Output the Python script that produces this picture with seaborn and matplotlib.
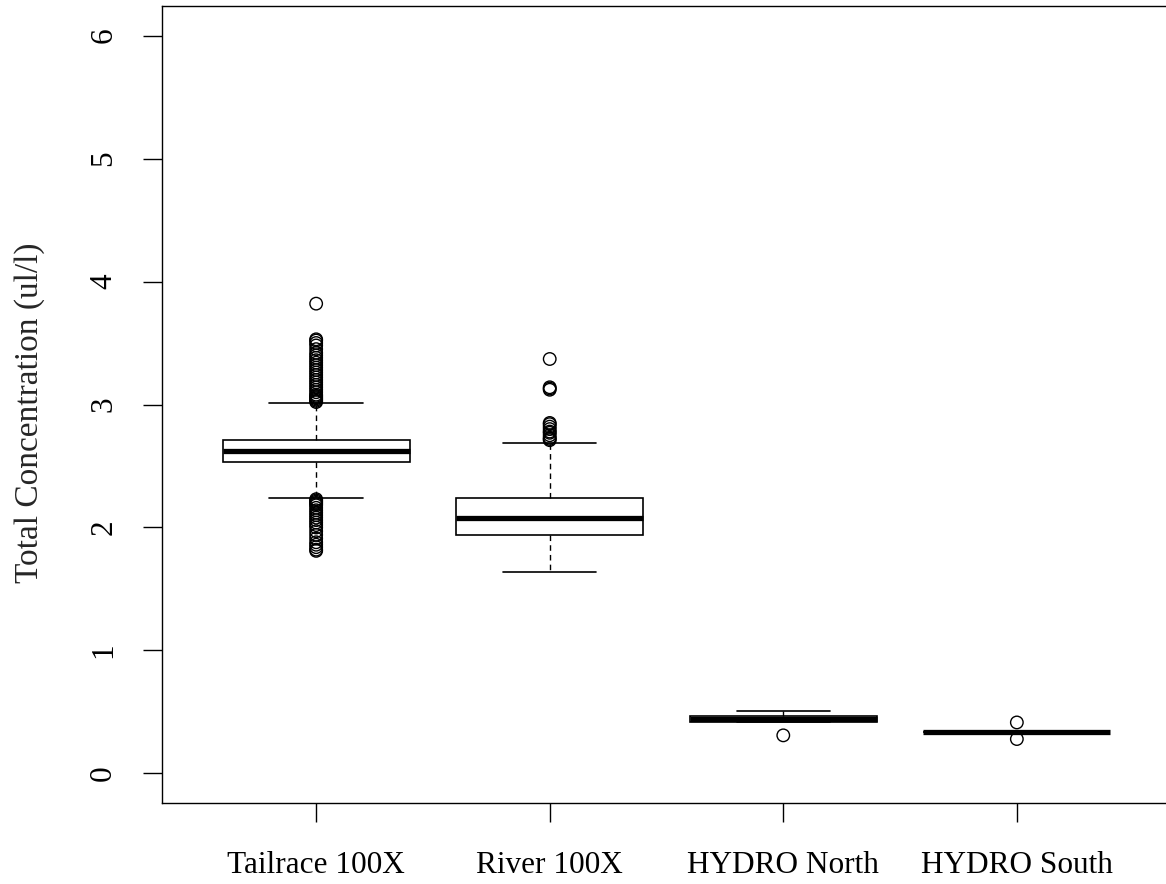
import numpy as np
import pandas as pd
import matplotlib
matplotlib.use("Agg")
import matplotlib.pyplot as plt
import seaborn as sns

sites = ["Tailrace 100X", "River 100X", "HYDRO North", "HYDRO South"]

# box summaries: lower whisker, Q1, median, Q3, upper whisker
tailrace_box = [2.24, 2.53, 2.62, 2.715, 3.01]
river_box = [1.64, 1.935, 2.08, 2.24, 2.69]
north_box = [0.42, 0.42, 0.44, 0.465, 0.51]
south_box = [0.34, 0.34, 0.34, 0.34, 0.34]

# outlying points (open circles)
tailrace_out = [3.02, 3.03, 3.04, 3.05, 3.06, 3.07, 3.08, 3.10, 3.12, 3.14,
                3.16, 3.18, 3.20, 3.22, 3.24, 3.26, 3.28, 3.30, 3.32, 3.34,
                3.36, 3.38, 3.40, 3.42, 3.45, 3.48, 3.50, 3.52, 3.53, 3.82,
                2.23, 2.22, 2.21, 2.20, 2.19, 2.18, 2.16, 2.14, 2.12, 2.10,
                2.08, 2.06, 2.04, 2.02, 2.00, 1.97, 1.94, 1.91, 1.88, 1.86,
                1.84, 1.82, 1.81]
river_out = [2.71, 2.72, 2.73, 2.75, 2.77, 2.78, 2.80, 2.82, 2.84, 2.85,
             3.12, 3.13, 3.14, 3.37]
north_out = [0.31]
south_out = [0.415, 0.28]

box_values = [tailrace_box, river_box, north_box, south_box]
out_values = [tailrace_out, river_out, north_out, south_out]

df_box = pd.DataFrame({
    "site": np.repeat(sites, [len(v) for v in box_values]),
    "conc": np.concatenate(box_values),
})
df_out = pd.DataFrame({
    "site": np.repeat(sites, [len(v) for v in out_values]),
    "conc": np.concatenate(out_values),
})

sns.set_style("ticks")
plt.rcParams["font.family"] = ["Liberation Serif", "DejaVu Serif"]

fig = plt.figure(figsize=(11.66, 8.84), dpi=100)
# plot region runs a little past the right edge of the image
ax = fig.add_axes([162 / 1166, 81 / 884, 1009 / 1166, 797 / 884])

# whiskers go to the given min/max, outliers drawn separately
sns.boxplot(data=df_box, x="site", y="conc", order=sites, whis=(0, 100),
            width=0.8, color="white", linecolor="black", linewidth=1.2,
            showfliers=False, ax=ax,
            medianprops=dict(linewidth=3.8, color="black"),
            whiskerprops=dict(linestyle=(0, (4, 3)), linewidth=1.0),
            capprops=dict(linewidth=1.2))

sns.stripplot(data=df_out, x="site", y="conc", order=sites, jitter=False,
              size=9, color="black", facecolor="none", edgecolor="black",
              linewidth=1.0, ax=ax)
for coll in ax.collections:
    coll.set_facecolor("none")
    coll.set_edgecolor("black")

ax.set_xlim(-0.66, 3.66)
ax.set_ylim(-0.24, 6.24)
ax.set_yticks(range(7))
ax.set_xlabel("")
ax.set_ylabel("Total Concentration (ul/l)", fontsize=24)
ax.yaxis.set_label_coords(-0.116, 0.49)

for s in ax.spines.values():
    s.set_visible(True)
    s.set_color("black")
    s.set_linewidth(1.0)

ax.tick_params(axis="both", direction="out", length=13.5, width=1.0,
               color="black", labelsize=22.5, labelcolor="black")
ax.tick_params(axis="x", pad=21)
ax.tick_params(axis="y", labelrotation=90, pad=18)
for lab in ax.get_yticklabels():
    lab.set_va("center")

fig.savefig("out.png", dpi=100)
plt.close(fig)
